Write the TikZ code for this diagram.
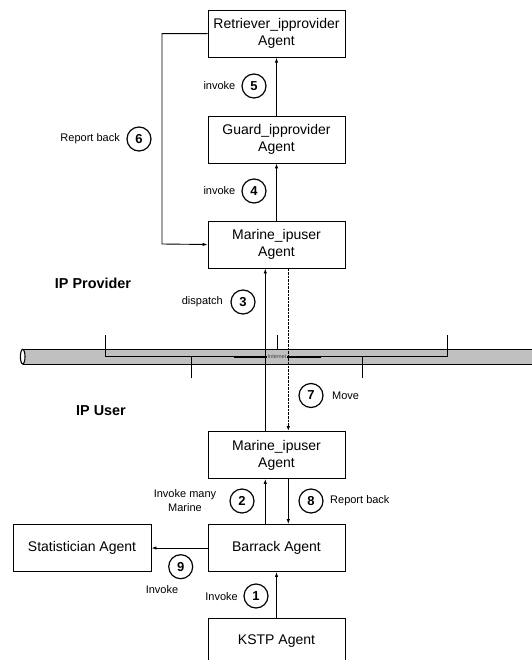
\documentclass[tikz,border=0pt]{standalone}
\usepackage{fontspec}
\setmainfont{Liberation Sans}
\usetikzlibrary{arrows.meta}
\begin{document}
\begin{tikzpicture}[x=1pt,y=-1pt,
  agent/.style={draw,line width=0.9pt,minimum width=137pt,minimum height=47pt,inner sep=0pt,align=center,font=\fontsize{14}{17}\selectfont},
  num/.style={draw,circle,line width=1.2pt,minimum size=24pt,inner sep=0pt,font=\fontsize{13}{13}\selectfont\bfseries},
  lbl/.style={font=\fontsize{11}{14}\selectfont,align=center,inner sep=0pt},
  zone/.style={font=\fontsize{14.4}{16}\selectfont\bfseries,inner sep=0pt},
  conn/.style={line width=0.9pt,-{Latex[length=5pt,width=3.5pt]}},
  dconn/.style={line width=1.5pt,dash pattern=on 2.6pt off 1pt,-{Latex[length=5pt,width=3.5pt]}}]
\useasboundingbox (0,0) rectangle (531,660);
% network bus
\fill[fill={rgb,255:red,192;green,192;blue,192}] (22.7,349.3) rectangle (545,364);
\draw[line width=0.8pt] (22.7,349.3) -- (545,349.3);
\draw[line width=0.8pt] (22.7,364) -- (545,364);
\draw[line width=1.1pt,fill=white] (22.7,356.65) ellipse [x radius=2.3pt,y radius=7.3pt];
\draw[line width=0.8pt] (105.7,335) -- (105.7,356.7) -- (447.7,356.7) -- (447.7,335);
\draw[line width=0.8pt] (191,378.3) -- (191,356.7) -- (362.3,356.7) -- (362.3,378.3);
\draw[line width=1.6pt] (234,356.7) -- (321,356.7);
\draw[line width=0.8pt] (277,335) -- (277,349.3);
\node[font=\fontsize{5.5}{6}\selectfont,text=black!75,fill={rgb,255:red,192;green,192;blue,192},inner sep=0.4pt] (net) at (277,357) {Internet};
% agents
\node[agent] (ret) at (276.5,33.7) {Retriever\_ipprovider\\Agent};
\node[agent] (grd) at (276.5,139.5) {Guard\_ipprovider\\Agent};
\node[agent] (mtop) at (276.5,244.5) {Marine\_ipuser\\Agent};
\node[agent] (mbot) at (276.5,455) {Marine\_ipuser\\Agent};
\node[agent] (bar) at (276.5,548) {Barrack Agent};
\node[agent,minimum width=138pt] (stat) at (82,548) {Statistician Agent};
\node[agent] (kstp) at (276.5,642.2) {};
\node[font=\fontsize{14}{17}\selectfont,inner sep=0pt] (kstpt) at (276.5,640.7) {KSTP Agent};
% connectors
\draw[conn] (grd.north) -- (ret.south);
\draw[conn] (mtop.north) -- (grd.south);
\coordinate (rb1) at (162,33.7);
\coordinate (rb2) at (162,244);
\draw[conn] (ret.west) -- (rb1) -- (rb2) -- (mtop.west);
\draw[conn] ([xshift=-11.2pt]mbot.north) -- ([xshift=-11.2pt]mtop.south);
\draw[dconn] ([xshift=11.8pt]mtop.south) -- ([xshift=11.8pt]mbot.north);
\draw[conn] ([xshift=-11.2pt]bar.north) -- ([xshift=-11.2pt]mbot.south);
\draw[conn] ([xshift=11.8pt]mbot.south) -- ([xshift=11.8pt]bar.north);
\draw[conn] (bar.west) -- (stat.east);
\draw[conn] (kstp.north) -- (bar.south);
% numbers and labels
\node[num] (n5) at (254,86) {5};
\node[lbl,anchor=east] (l5) at (235.5,86) {invoke};
\node[num] (n4) at (254,191) {4};
\node[lbl,anchor=east] (l4) at (235.5,191) {invoke};
\node[num] (n6) at (139,139) {6};
\node[lbl,anchor=east] (l6) at (120,139) {Report back};
\node[zone] (ipp) at (93,283) {IP Provider};
\node[num] (n3) at (243,302) {3};
\node[lbl,anchor=east] (l3) at (223,302) {dispatch};
\node[num] (n7) at (311,395.5) {7};
\node[lbl,anchor=west] (l7) at (332,395.5) {Move};
\node[zone] (ipu) at (101,411) {IP User};
\node[num] (n2) at (242,501) {2};
\node[lbl] (l2) at (185,501) {Invoke many\\Marine};
\node[num] (n8) at (311,501) {8};
\node[lbl,anchor=west] (l8) at (330,501) {Report back};
\node[num] (n9) at (180.7,566.7) {9};
\node[lbl] (l9) at (162,590) {Invoke};
\node[num] (n1) at (256,596) {1};
\node[lbl,anchor=east] (l1) at (238,597) {Invoke};
\end{tikzpicture}
\end{document}
